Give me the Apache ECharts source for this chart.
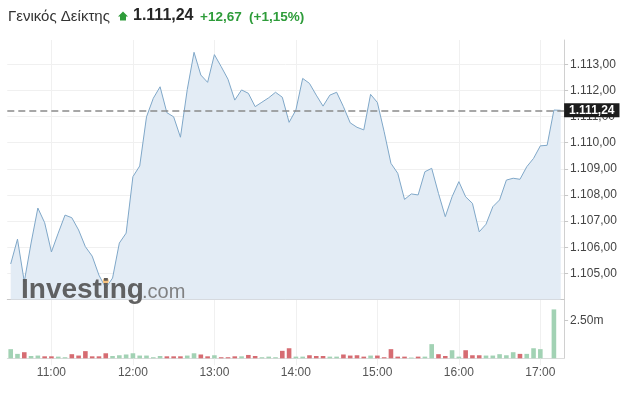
<!DOCTYPE html>
<html>
<head>
<meta charset="utf-8">
<script src="https://cdn.jsdelivr.net/npm/echarts@6/dist/echarts.min.js"></script>
<style>
html,body{margin:0;padding:0;background:#fff;}
#chart{width:623px;height:393px;}
</style>
</head>
<body>
<div id="chart"></div>
<script>
const times = ["10:30","10:35","10:40","10:45","10:50","10:55","11:00","11:05","11:10","11:15","11:20","11:25",
"11:30","11:35","11:40","11:45","11:50","11:55","12:00","12:05","12:10","12:15","12:20","12:25",
"12:30","12:35","12:40","12:45","12:50","12:55","13:00","13:05","13:10","13:15","13:20","13:25",
"13:30","13:35","13:40","13:45","13:50","13:55","14:00","14:05","14:10","14:15","14:20","14:25",
"14:30","14:35","14:40","14:45","14:50","14:55","15:00","15:05","15:10","15:15","15:20","15:25",
"15:30","15:35","15:40","15:45","15:50","15:55","16:00","16:05","16:10","16:15","16:20","16:25",
"16:30","16:35","16:40","16:45","16:50","16:55","17:00","17:05","17:10","17:15"];

const prices = [1105.36,1106.31,1104.68,1106.16,1107.50,1106.94,1105.82,1106.54,1107.23,1107.13,
1106.66,1106.02,1105.66,1104.93,1104.44,1104.82,1106.16,1106.54,1108.70,1109.11,
1110.99,1111.70,1112.14,1111.15,1110.99,1110.21,1112.03,1113.46,1112.59,1112.31,
1113.37,1112.91,1112.43,1111.63,1112.02,1111.89,1111.38,1111.55,1111.72,1111.93,
1111.74,1110.78,1111.25,1112.46,1112.27,1111.82,1111.40,1111.82,1111.93,1111.38,
1110.76,1110.59,1110.49,1111.85,1111.54,1110.42,1109.21,1108.83,1107.83,1108.04,
1108.00,1108.89,1109.02,1108.06,1107.17,1107.93,1108.51,1107.93,1107.68,1106.59,
1106.88,1107.55,1107.81,1108.57,1108.64,1108.60,1109.08,1109.40,1109.88,1109.90,
1111.25,1111.24];

// volume in millions
const volumes = [0.60,0.29,0.40,0.15,0.18,0.13,0.13,0.11,0.07,0.27,
0.18,0.47,0.13,0.13,0.33,0.15,0.20,0.25,0.33,0.18,
0.18,0.07,0.15,0.13,0.13,0.13,0.18,0.33,0.25,0.13,
0.20,0.07,0.07,0.13,0.13,0.22,0.15,0.07,0.11,0.07,
0.49,0.66,0.11,0.11,0.20,0.15,0.15,0.11,0.11,0.25,
0.18,0.20,0.11,0.18,0.18,0.07,0.60,0.11,0.11,0.05,
0.11,0.11,0.93,0.27,0.15,0.53,0.11,0.53,0.20,0.20,
0.18,0.18,0.27,0.20,0.40,0.29,0.29,0.66,0.60,0,
3.21,null];

const lastPrice = 1111.24;
const eventMarker = {time: "11:40", value: 1104.71};
const priceTicks = [1105,1106,1107,1108,1109,1110,1111,1112,1113];
const volumeTickLabel = "2.50m";
const headerTitle = "Γενικός Δείκτης";
const headerPrice = "1.111,24";
const headerChange = "+12,67";
const headerPct = "(+1,15%)";

function fmt(v){
  const s = v.toFixed(2).split('.');
  const int = s[0].replace(/\B(?=(\d{3})+(?!\d))/g, '.');
  return int + ',' + s[1];
}
const isHour = (i) => times[i] && times[i].endsWith(':00');

const GREEN = '#a2d2b4', RED = '#d66c72';
const volData = volumes.map((v, i) => {
  const up = i === 0 || prices[i] >= prices[i-1];
  return {value: v, itemStyle: {color: up ? GREEN : RED}};
});

const gridL = 7.3, gridW = 556.8;
const chart = echarts.init(document.getElementById('chart'), null, {renderer:'canvas'});
const font = 'Liberation Sans, Arial, sans-serif';
const gridColor = '#f0f0f0';

chart.setOption({
  animation: false,
  textStyle: {fontFamily: font},
  grid: [
    {left: gridL, top: 40, width: gridW, height: 259.5},
    {left: gridL, top: 299.5, width: gridW, height: 58.8}
  ],
  xAxis: [
    {type:'category', gridIndex:0, data: times, boundaryGap: true,
     axisLine:{show:true, lineStyle:{color:'#c8c8c8'}},
     axisTick:{show:false}, axisLabel:{show:false},
     splitLine:{show:true, interval: (i)=>isHour(i), alignWithLabel:true, lineStyle:{color:gridColor}}},
    {type:'category', gridIndex:1, data: times, boundaryGap: true,
     axisLine:{show:true, lineStyle:{color:'#dcdcdc'}},
     axisTick:{show:true, interval:(i)=>isHour(i), alignWithLabel:true, length:7, lineStyle:{color:gridColor}},
     axisLabel:{show:true, interval:(i)=>isHour(i), color:'#555', fontSize:12, margin:8, fontFamily: font},
     splitLine:{show:true, interval:(i)=>isHour(i), alignWithLabel:true, lineStyle:{color:gridColor}}}
  ],
  yAxis: [
    {type:'value', gridIndex:0, position:'right', min:1104, max:1113.93, interval:1,
     axisLine:{show:true, lineStyle:{color:'#d0d0d0'}},
     axisTick:{show:true, length:4, lineStyle:{color:'#c8c8c8'}},
     axisLabel:{show:true, margin:6, color:'#444', fontSize:12, fontFamily: font,
       showMinLabel:false, showMaxLabel:false,
       formatter:(v)=> priceTicks.indexOf(Math.round(v*100)/100) >= 0 ? fmt(v) : ''},
     splitLine:{show:true, lineStyle:{color:[gridColor,gridColor,gridColor,gridColor,gridColor,gridColor,gridColor,gridColor,gridColor,gridColor,'rgba(0,0,0,0)']}}},
    {type:'value', gridIndex:1, position:'right', min:0, max:3.86, interval:2.5,
     axisLine:{show:true, lineStyle:{color:'#d0d0d0'}},
     axisTick:{show:true, length:4, lineStyle:{color:'#c8c8c8'}},
     axisLabel:{show:true, margin:6, color:'#444', fontSize:12, fontFamily: font,
       showMinLabel:false, showMaxLabel:false,
       formatter:(v)=> Math.abs(v-2.5)<1e-6 ? volumeTickLabel : ''},
     splitLine:{show:false}}
  ],
  series: [
    {type:'line', xAxisIndex:0, yAxisIndex:0, data: prices, symbol:'none', smooth:false,
     lineStyle:{color:'#7fa7c8', width:1},
     areaStyle:{color:'#e3ecf5', origin:'start', opacity:1},
     markLine:{symbol:'none', silent:true, animation:false,
       lineStyle:{color:'#8a8a8a', type:[7,4], width:1.5},
       label:{show:true, position:'end', distance:0, formatter: ()=>fmt(lastPrice),
         backgroundColor:'#1c1c1c', color:'#fff', fontSize:12, fontWeight:'bold',
         padding:[1,5,1,5], fontFamily: font},
       data:[{yAxis: lastPrice}]},
     markPoint:{symbol:'circle', symbolSize:6, silent:true,
       itemStyle:{color:'#f6c27e'}, label:{show:false},
       data:[{coord:[eventMarker.time, eventMarker.value]}]}
    },
    {type:'bar', xAxisIndex:1, yAxisIndex:1, data: volData, barWidth:4.6}
  ],
  graphic: [
    {type:'text', left: 8, top: 9, style:{text: headerTitle, font:'15px '+font, fill:'#333'}},
    {type:'polygon', shape:{points:[[123,11.5],[128,16.5],[126,16.5],[126,20.5],[120,20.5],[120,16.5],[118,16.5]]},
     style:{fill:'#2e9c3a'}},
    {type:'text', left: 133, top: 8, style:{text: headerPrice, font:'bold 16px '+font, fill:'#262626'}},
    {type:'text', left: 200, top: 10, style:{text: headerChange, font:'bold 13.5px '+font, fill:'#2e9c3a'}},
    {type:'text', left: 249, top: 10, style:{text: headerPct, font:'bold 13.5px '+font, fill:'#2e9c3a'}},
    {type:'text', left: 21, top: 276, z: 100, style:{text:'Investing', font:'bold 28px '+font, fill:'#555', opacity:0.92}},
    {type:'text', left: 142, top: 282, z: 100, style:{text:'.com', font:'20px '+font, fill:'#777', opacity:0.92}}
  ]
});
</script>
</body>
</html>
